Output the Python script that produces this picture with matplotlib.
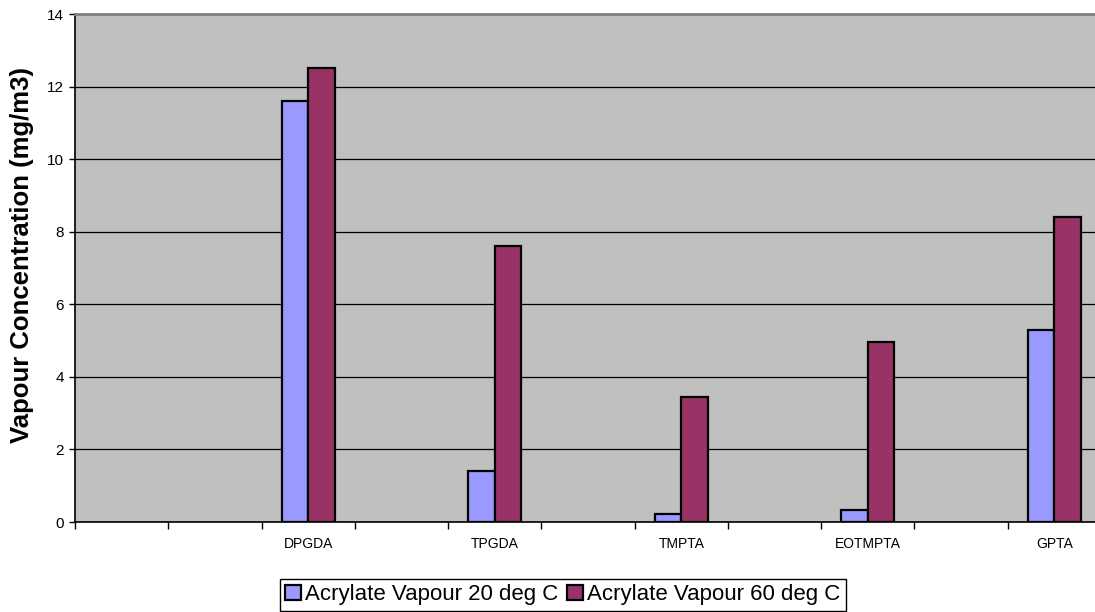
import numpy as np
import matplotlib
matplotlib.use('Agg')
import matplotlib.pyplot as plt

plt.rcParams['font.family'] = ['Liberation Sans', 'DejaVu Sans']

# 11 category slots, only every other one carries a chemical
categories = ['', '', 'DPGDA', '', 'TPGDA', '', 'TMPTA', '', 'EOTMPTA', '', 'GPTA']
vapour_20 = [np.nan, np.nan, 11.6, np.nan, 1.4, np.nan, 0.22, np.nan, 0.32, np.nan, 5.3]
vapour_60 = [np.nan, np.nan, 12.5, np.nan, 7.6, np.nan, 3.45, np.nan, 4.97, np.nan, 8.4]
series_names = ['Acrylate Vapour 20 deg C', 'Acrylate Vapour 60 deg C']

fig = plt.figure(figsize=(10.95, 6.12), dpi=100)
ax = fig.add_axes([75 / 1095, 90 / 612, 1026 / 1095, 508 / 612])
ax.set_facecolor('#C0C0C0')

x = np.arange(len(categories))
w = 1 / 3.5
ax.bar(x - w / 2, vapour_20, w, color='#9999FF', edgecolor='black', linewidth=1.6,
       label=series_names[0], zorder=3)
ax.bar(x + w / 2, vapour_60, w, color='#993366', edgecolor='black', linewidth=1.6,
       label=series_names[1], zorder=3)

ax.set_xlim(-0.5, len(categories) - 0.5)
ax.set_ylim(0, 14)
ax.set_yticks(np.arange(0, 15, 2))
ax.yaxis.grid(True, color='black', linewidth=0.9, zorder=1)
ax.tick_params(axis='y', direction='out', length=4, width=1, labelsize=11, pad=4)

ax.set_xticks(np.arange(-0.5, len(categories), 1))
ax.set_xticklabels([])
ax.tick_params(axis='x', which='major', direction='out', length=5, width=1)
ax.set_xticks(x, minor=True)
ax.set_xticklabels(categories, minor=True, fontsize=10)
ax.tick_params(axis='x', which='minor', length=0, pad=11)

for s in ['top', 'right']:
    ax.spines[s].set_color('#808080')
    ax.spines[s].set_linewidth(2)
ax.spines['left'].set_color('black')
ax.spines['bottom'].set_color('black')
ax.spines['left'].set_linewidth(1.2)
ax.spines['bottom'].set_linewidth(1.2)

ax.set_ylabel('Vapour Concentration (mg/m3)', fontsize=18.5, fontweight='bold', va='center')
ax.yaxis.set_label_coords(-0.052, 0.525)

fig.legend(loc='lower center', bbox_to_anchor=(563 / 1095, -0.016), ncol=2, fontsize=16,
           frameon=True, fancybox=False, edgecolor='black', framealpha=1,
           handlelength=0.7, handleheight=0.7, handletextpad=0.2, columnspacing=0.4,
           borderpad=0.25)

fig.savefig('out.png', dpi=100)
